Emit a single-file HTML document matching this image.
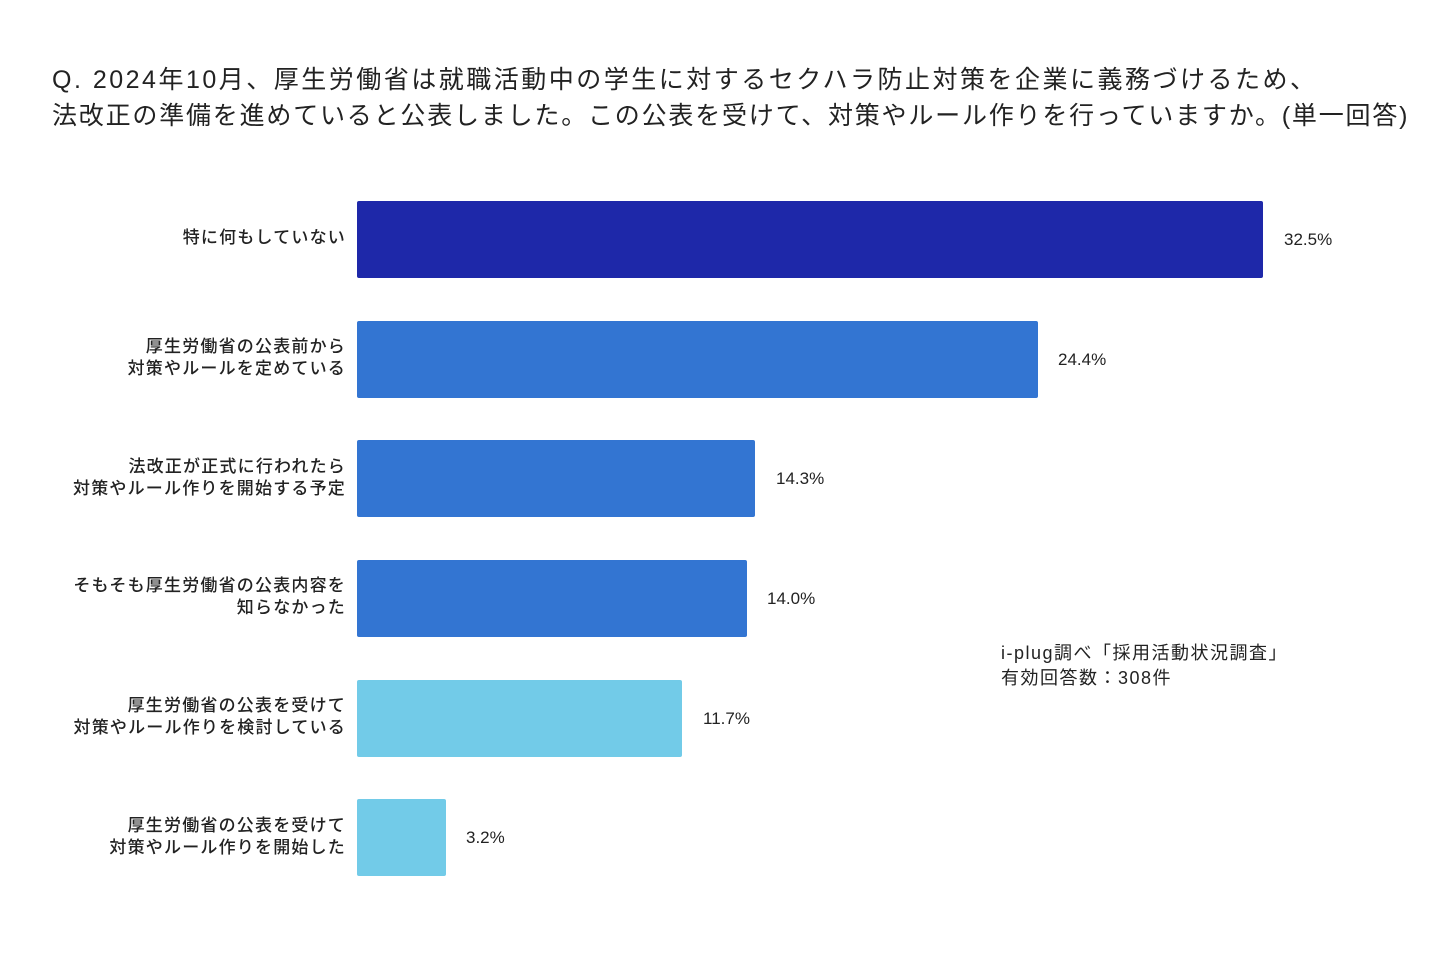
<!DOCTYPE html>
<html><head><meta charset="utf-8"><style>
body{margin:0;width:1448px;height:954px;background:#fff;position:relative;overflow:hidden;font-family:"Liberation Sans","Noto Sans CJK JP",sans-serif;color:#222}
.t{position:absolute;left:52px;font-size:25px;white-space:nowrap;line-height:36px}
.bar{position:absolute;left:357px;height:77px;border-radius:2px}
.lab{position:absolute;right:1102px;text-align:right;font-size:17px;line-height:22px;font-weight:500;white-space:nowrap;letter-spacing:1.2px}
.v{position:absolute;font-size:17px;white-space:nowrap}
.n{position:absolute;left:1001px;font-size:18px;line-height:25px;white-space:nowrap;letter-spacing:1.5px}
</style></head><body>
<div class="t" style="top:62px;letter-spacing:2.5px">Q. 2024年10月、厚生労働省は就職活動中の学生に対するセクハラ防止対策を企業に義務づけるため、</div>
<div class="t" style="top:98px;letter-spacing:1.8px">法改正の準備を進めていると公表しました。この公表を受けて、対策やルール作りを行っていますか。(単一回答)</div>

<div class="bar" style="top:201px;width:906px;background:#1e28a9"></div>
<div class="bar" style="top:321px;width:681px;background:#3375d2"></div>
<div class="bar" style="top:440px;width:398px;background:#3375d2"></div>
<div class="bar" style="top:560px;width:390px;background:#3375d2"></div>
<div class="bar" style="top:680px;width:325px;background:#72cbe8"></div>
<div class="bar" style="top:799px;width:89px;background:#72cbe8"></div>

<div class="lab" style="top:227px">特に何もしていない</div>
<div class="lab" style="top:336px">厚生労働省の公表前から<br>対策やルールを定めている</div>
<div class="lab" style="top:456px">法改正が正式に行われたら<br>対策やルール作りを開始する予定</div>
<div class="lab" style="top:575px">そもそも厚生労働省の公表内容を<br>知らなかった</div>
<div class="lab" style="top:695px">厚生労働省の公表を受けて<br>対策やルール作りを検討している</div>
<div class="lab" style="top:815px">厚生労働省の公表を受けて<br>対策やルール作りを開始した</div>

<div class="v" style="left:1284px;top:230px">32.5%</div>
<div class="v" style="left:1058px;top:350px">24.4%</div>
<div class="v" style="left:776px;top:469px">14.3%</div>
<div class="v" style="left:767px;top:589px">14.0%</div>
<div class="v" style="left:703px;top:709px">11.7%</div>
<div class="v" style="left:466px;top:828px">3.2%</div>

<div class="n" style="top:641px">i-plug調べ「採用活動状況調査」<br>有効回答数：308件</div>
</body></html>
